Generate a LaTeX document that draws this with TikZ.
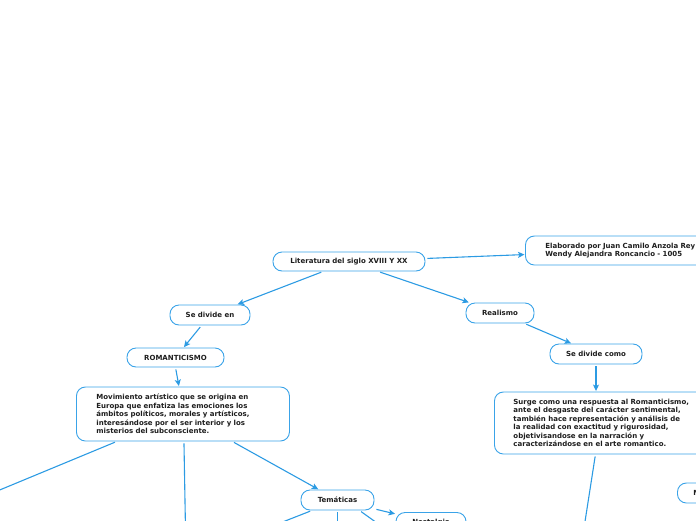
\documentclass[tikz,border=0pt]{standalone}
\usepackage{fontspec}
\setmainfont{DejaVu Sans}
\usetikzlibrary{arrows.meta}
\definecolor{edgec}{HTML}{2C9BE3}
\definecolor{bordc}{HTML}{3AA3E8}
\definecolor{txtc}{HTML}{1E1E1E}
\begin{document}
\begin{tikzpicture}[x=1pt,y=-1pt,
  box/.style={draw=bordc, line width=0.9pt, rounded corners=9pt, fill=white,
    font=\fontsize{7}{8.5}\selectfont\bfseries, text=txtc, inner sep=0pt},
  con/.style={draw=edgec, line width=1.1pt, shorten <=2pt},
  arr/.style={con, -{Stealth[length=6.5pt,width=6pt,inset=1.5pt]}, shorten >=0.5pt}]
\useasboundingbox (0,0) rectangle (696,520);
\clip (0,0) rectangle (696,520);

\node[box, minimum width=152pt, minimum height=19pt] (lit) at (349,261.5) {Literatura del siglo XVIII Y XX};
\node[box, anchor=west, minimum height=29pt, text width=165pt, inner xsep=20pt, align=left] (elab) at (525,250.5)
  {Elaborado por Juan Camilo Anzola Rey\\Wendy Alejandra Roncancio - 1005};
\node[box, minimum width=80pt, minimum height=20pt] (sdi) at (210,315) {Se divide en};
\node[box, minimum width=68pt, minimum height=20pt] (real) at (500,313) {Realismo};
\node[box, minimum width=97pt, minimum height=19pt] (roman) at (175.5,357.5) {ROMANTICISMO};
\node[box, minimum width=92pt, minimum height=20pt] (sdc) at (596,354) {Se divide como};
\node[box, anchor=west, minimum height=54pt, text width=173pt, inner xsep=20pt, align=left] (mov) at (76,414)
  {Movimiento artístico que se origina en\\Europa que enfatiza las emociones los\\ámbitos políticos, morales y artísticos,\\interesándose por el ser interior y los\\misterios del subconsciente.};
\node[box, anchor=west, minimum height=62pt, text width=190pt, inner xsep=19pt, align=left] (surge) at (494,423)
  {Surge como una respuesta al Romanticismo,\\ante el desgaste del carácter sentimental,\\también hace representación y análisis de\\la realidad con exactitud y rigurosidad,\\objetivisandose en la narración y\\caracterizándose en el arte romantico.};
\node[box, minimum width=73pt, minimum height=20pt] (tem) at (337.5,500) {Temáticas};
\node[box, minimum width=70pt, minimum height=20pt] (nost) at (431,522.5) {Nostalgia};
\node[box, anchor=west, minimum height=20pt, inner xsep=16pt] (mnode) at (677,493) {Muerte};

\coordinate (c1) at (-10,494);
\coordinate (c2) at (185.5,530);
\coordinate (c3) at (280,523);
\coordinate (c4) at (337.5,530);
\coordinate (c5) at (377,523);
\coordinate (c6) at (584,528);

\draw[arr] (lit) -- (elab);
\draw[arr] (lit) -- (sdi);
\draw[arr] (lit) -- (real);
\draw[arr] (sdi) -- (roman);
\draw[arr] (roman.south) -- (mov.north -| 179,0);
\draw[arr] (real) -- (sdc);
\draw[arr] (sdc.south) -- (sdc.south |- surge.north);
\draw[con] (mov) -- (c1);
\draw[con] ([xshift=1pt]mov.south) -- (c2);
\draw[arr] (mov) -- (tem);
\draw[arr] (tem) -- (nost);
\draw[con] ([xshift=-25.5pt]tem.south) -- (c3);
\draw[con] (tem.south) -- (c4);
\draw[con] ([xshift=22pt]tem.south) -- (c5);
\draw[con] ([xshift=-13pt]surge.south) -- (c6);
\end{tikzpicture}
\end{document}
